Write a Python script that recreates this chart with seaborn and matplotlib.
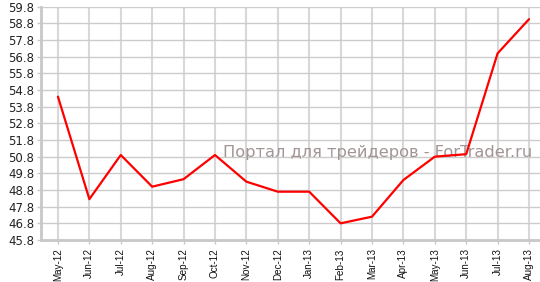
import matplotlib
matplotlib.use("Agg")
import matplotlib.pyplot as plt
import seaborn as sns
import pandas as pd
import numpy as np

months = ["May-12", "Jun-12", "Jul-12", "Aug-12", "Sep-12", "Oct-12", "Nov-12", "Dec-12",
          "Jan-13", "Feb-13", "Mar-13", "Apr-13", "May-13", "Jun-13", "Jul-13", "Aug-13"]
values = [54.4, 48.25, 50.9, 49.0, 49.45, 50.9, 49.3, 48.7,
          48.7, 46.8, 47.2, 49.4, 50.8, 50.95, 57.0, 59.05]
y_ticks = [45.8, 46.8, 47.8, 48.8, 49.8, 50.8, 51.8, 52.8, 53.8, 54.8, 55.8, 56.8, 57.8, 58.8, 59.8]
watermark = "Портал для трейдеров - ForTrader.ru"

sns.set_style("white")
plt.rcParams['font.family'] = ['DejaVu Sans']

df = pd.DataFrame({"month": months, "value": values})

fig = plt.figure(figsize=(5.4, 2.82), dpi=100)
ax = fig.add_axes([41 / 540, 1 - 240 / 282, 1 - 41 / 540, (240 - 6.7) / 282])

sns.lineplot(data=df, x="month", y="value", sort=False, color="#ff0000", linewidth=1.6, ax=ax, zorder=3)

ax.set_ylim(45.8, 59.8)
ax.set_xlim(-0.54, 15.35)
ax.set_yticks(y_ticks)
ax.set_yticklabels([f"{t:.1f}" for t in y_ticks], fontsize=8.5, color="#222222")
ax.set_xticks(range(len(months)))
ax.set_xticklabels(months, rotation=90, fontsize=7.1, color="#111111", family=["Liberation Sans"])
ax.set_xlabel("")
ax.set_ylabel("")

ax.grid(True, axis="y", color="#cccccc", linewidth=1.0, zorder=0)
ax.grid(True, axis="x", color="#d8d8d8", linewidth=1.5, zorder=0)
for s in ["top", "right"]:
    ax.spines[s].set_visible(False)
for s in ["left", "bottom"]:
    ax.spines[s].set_color("#c8c8c8")
    ax.spines[s].set_linewidth(2)
ax.tick_params(axis="both", which="both", length=3, width=1, color="#c8c8c8", pad=2,
               left=True, bottom=True)
ax.tick_params(axis="x", pad=3)

ax.text(0.674, 0.377, watermark, transform=ax.transAxes, ha="center", va="center",
        fontsize=11.7, color="#a39595", zorder=2)

fig.savefig("out.png", dpi=100, facecolor="white")
